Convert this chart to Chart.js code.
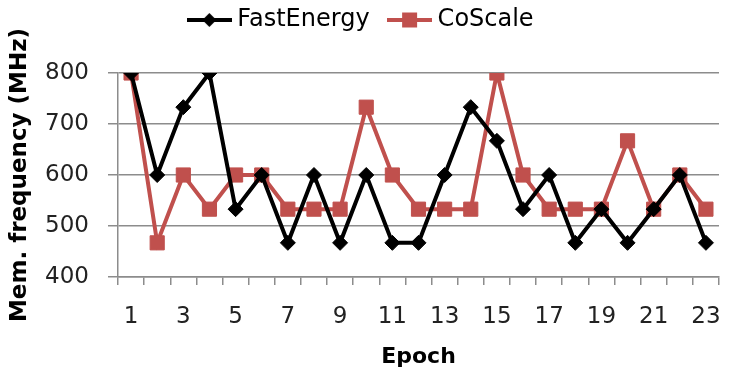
<!DOCTYPE html>
<html>
<head>
<meta charset="utf-8">
<script src="https://cdn.jsdelivr.net/npm/chart.js@4/dist/chart.umd.min.js"></script>
<style>
  html, body { margin: 0; padding: 0; background: #fff; }
  #wrap { width: 730px; height: 376px; }
</style>
</head>
<body>
<div id="wrap"><canvas id="chart"></canvas></div>
<script>
const epochs = ['1','2','3','4','5','6','7','8','9','10','11','12','13','14','15','16','17','18','19','20','21','22','23'];
const fastEnergy = [800, 600, 733, 800, 533, 600, 467, 600, 467, 600, 467, 467, 600, 733, 667, 533, 600, 467, 533, 467, 533, 600, 467];
const coScale = [800, 467, 600, 533, 600, 600, 533, 533, 533, 733, 600, 533, 533, 533, 800, 600, 533, 533, 533, 667, 533, 600, 533];
const yTicks = [400, 500, 600, 700, 800];

const RED = '#C0504D';
const FONT = "'DejaVu Sans'";

// legend icon: line with marker in the middle
function legendIcon(color, shape) {
	const c = document.createElement('canvas');
	c.width = 45; c.height = 18;
	const g = c.getContext('2d');
	g.strokeStyle = color;
	g.lineWidth = 4;
	g.beginPath(); g.moveTo(0, 9); g.lineTo(45, 9); g.stroke();
	g.fillStyle = color;
	g.beginPath();
	if (shape === 'diamond') {
		g.moveTo(22.5, 2); g.lineTo(29.5, 9); g.lineTo(22.5, 16); g.lineTo(15.5, 9);
	} else {
		g.rect(15, 1.5, 15, 15);
	}
	g.fill();
	return c;
}
const icons = [legendIcon('#000', 'diamond'), legendIcon(RED, 'square')];

// fixed legend block, items drawn higher than default
const legendHeight = {
	id: 'legendHeight',
	beforeInit(chart) {
		const fit = chart.legend.fit;
		chart.legend.fit = function () {
			fit.bind(chart.legend)();
			this.height = 73;
		};
	},
	afterLayout(chart) {
		chart.legend.top -= 16;
		chart.legend.bottom -= 16;
	}
};

new Chart(document.getElementById('chart'), {
	type: 'line',
	data: {
		labels: epochs,
		datasets: [
			{
				label: 'FastEnergy',
				data: fastEnergy,
				borderColor: '#000',
				backgroundColor: '#000',
				borderWidth: 4,
				pointStyle: 'rectRot',
				pointRadius: 7.5,
				pointBorderWidth: 1,
				tension: 0,
			},
			{
				label: 'CoScale',
				data: coScale,
				borderColor: RED,
				backgroundColor: RED,
				borderWidth: 4,
				pointStyle: 'rect',
				pointRadius: 10,
				pointBorderWidth: 1,
				tension: 0,
			},
		],
	},
	options: {
		responsive: true,
		maintainAspectRatio: false,
		animation: false,
		layout: { padding: { top: 0, right: 3, left: 0, bottom: 0 } },
		plugins: {
			legend: {
				position: 'top',
				labels: {
					usePointStyle: true,
					pointStyleWidth: 32,
					padding: 24,
					color: '#000',
					font: { family: FONT, size: 24 },
					generateLabels(chart) {
						return chart.data.datasets.map((ds, i) => ({
							text: ds.label,
							pointStyle: icons[i],
							fillStyle: ds.borderColor,
							strokeStyle: ds.borderColor,
							lineWidth: 0,
							hidden: false,
							datasetIndex: i,
							fontColor: '#000',
						}));
					},
				},
			},
			tooltip: { enabled: false },
		},
		scales: {
			x: {
				offset: true,
				afterFit(s) { s.height = 99; s.paddingRight = 0; },
				grid: {
					offset: true,
					drawOnChartArea: false,
					drawTicks: true,
					tickLength: 8,
					color: '#8c8c8c',
					lineWidth: 1.5,
				},
				border: { color: '#8c8c8c', width: 1.5 },
				ticks: {
					autoSkip: false,
					maxRotation: 0,
					padding: 18,
					color: '#222',
					font: { family: FONT, size: 23 },
					callback(v, i) { return i % 2 === 0 ? epochs[i] : ''; },
				},
				title: {
					display: true,
					text: 'Epoch',
					color: '#000',
					font: { family: FONT, size: 22, weight: 'bold' },
					padding: { top: 2, bottom: 6 },
				},
			},
			y: {
				min: yTicks[0],
				max: yTicks[yTicks.length - 1],
				afterFit(s) { s.width = 118; },
				afterBuildTicks(s) { s.ticks = yTicks.map(v => ({ value: v })); },
				grid: {
					color: '#8c8c8c',
					lineWidth: 1.5,
					tickLength: 10,
				},
				border: { color: '#8c8c8c', width: 1.5 },
				ticks: {
					padding: 19,
					color: '#222',
					font: { family: FONT, size: 23 },
				},
				title: {
					display: true,
					text: 'Mem. frequency (MHz)',
					color: '#000',
					font: { family: FONT, size: 23, weight: 'bold' },
					padding: { top: 6, bottom: 0 },
				},
			},
		},
	},
	plugins: [legendHeight],
});
</script>
</body>
</html>
